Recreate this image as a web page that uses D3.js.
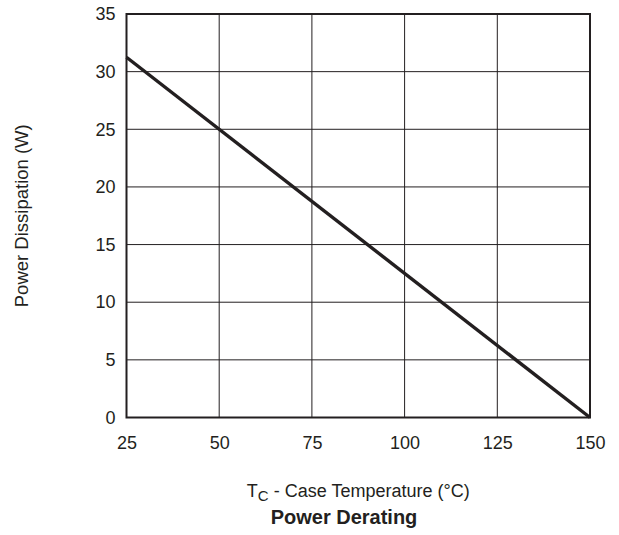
<!DOCTYPE html>
<html>
<head>
<meta charset="utf-8">
<script src="https://cdn.jsdelivr.net/npm/d3@7"></script>
<style>
  body { margin: 0; background: #fff; }
  svg text { font-family: "Liberation Sans", Arial, Helvetica, sans-serif; fill: #231f20; }
</style>
</head>
<body>
<svg id="chart"></svg>
<script>
// case temperature (°C) vs power dissipation (W)
var temps = [25, 150];
var power = [31.25, 0];
var xTicks = [25, 50, 75, 100, 125, 150];
var yTicks = [0, 5, 10, 15, 20, 25, 30, 35];

var width = 619;
var height = 535;
var margin = {left: 126.5, right: 29, top: 14, bottom: 117.5};

var svg = d3.select("#chart")
  .attr("width", width)
  .attr("height", height);

var xScale = d3.scaleLinear().domain([25, 150]).range([margin.left, width - margin.right]);
var yScale = d3.scaleLinear().domain([0, 35]).range([height - margin.bottom, margin.top]);

var ink = "#231f20";

// grid lines
svg.append("g")
  .selectAll("line")
  .data(xTicks.slice(1, -1))
  .enter()
  .append("line")
  .attr("x1", function(d) { return xScale(d); })
  .attr("x2", function(d) { return xScale(d); })
  .attr("y1", yScale(0))
  .attr("y2", yScale(35))
  .attr("stroke", ink)
  .attr("stroke-width", 1);

svg.append("g")
  .selectAll("line")
  .data(yTicks.slice(1, -1))
  .enter()
  .append("line")
  .attr("x1", xScale(25))
  .attr("x2", xScale(150))
  .attr("y1", function(d) { return yScale(d); })
  .attr("y2", function(d) { return yScale(d); })
  .attr("stroke", ink)
  .attr("stroke-width", 1);

// frame
svg.append("rect")
  .attr("x", xScale(25))
  .attr("y", yScale(35))
  .attr("width", xScale(150) - xScale(25))
  .attr("height", yScale(0) - yScale(35))
  .attr("fill", "none")
  .attr("stroke", ink)
  .attr("stroke-width", 2);

// axes (labels only, the frame draws the lines)
var xAxis = svg.append("g")
  .attr("transform", "translate(0," + yScale(0) + ")")
  .call(d3.axisBottom(xScale).tickValues(xTicks).tickSize(0).tickPadding(19));
xAxis.select(".domain").remove();
xAxis.selectAll("text").style("font-size", "18px").attr("fill", ink);

var yAxis = svg.append("g")
  .attr("transform", "translate(" + xScale(25) + ",0)")
  .call(d3.axisLeft(yScale).tickValues(yTicks).tickSize(0).tickPadding(11));
yAxis.select(".domain").remove();
yAxis.selectAll("text").style("font-size", "18px").attr("fill", ink);

// derating line
var pts = temps.map(function(t, i) { return [t, power[i]]; });
svg.append("path")
  .datum(pts)
  .attr("fill", "none")
  .attr("stroke", ink)
  .attr("stroke-width", 3.4)
  .attr("d", d3.line()
    .x(function(d) { return xScale(d[0]); })
    .y(function(d) { return yScale(d[1]); }));

// axis titles
var xt = svg.append("text")
  .attr("x", (xScale(25) + xScale(150)) / 2)
  .attr("y", 497)
  .attr("text-anchor", "middle")
  .style("font-size", "18px");
xt.append("tspan").text("T");
xt.append("tspan").attr("dy", 4).style("font-size", "15px").text("C");
xt.append("tspan").attr("dy", -4).text(" - Case Temperature (°C)");

svg.append("text")
  .attr("transform", "translate(27.5," + (yScale(17.5)) + ") rotate(-90)")
  .attr("text-anchor", "middle")
  .style("font-size", "18.5px")
  .text("Power Dissipation (W)");

svg.append("text")
  .attr("x", 344)
  .attr("y", 524)
  .attr("text-anchor", "middle")
  .style("font-size", "20px")
  .style("font-weight", "bold")
  .text("Power Derating");
</script>
</body>
</html>
